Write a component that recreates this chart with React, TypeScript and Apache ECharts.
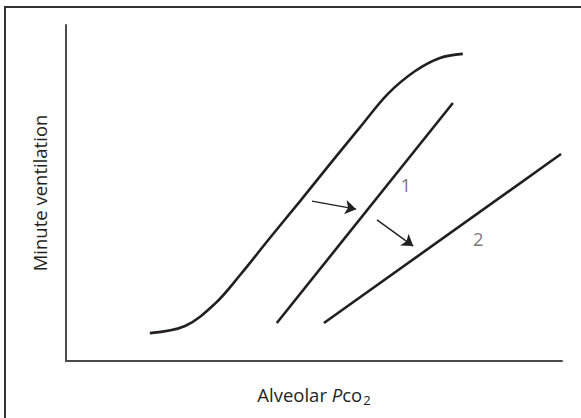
import React, { useEffect, useRef } from "react";
import * as echarts from "echarts";

// Data in abstract units (x: 0..100, y: 0..100)
const sCurve: [number, number][] = [
  [16.9, 8.3], [24.0, 10.4], [30.0, 17.0], [35.1, 25.6], [41.1, 36.6],
  [47.2, 47.6], [53.2, 58.6], [59.3, 69.6], [64.9, 79.5], [70.4, 86.3],
  [75.4, 90.2], [80.0, 91.4],
];
const line1: [number, number][] = [[42.5, 11.3], [78.0, 76.8]];
const line2: [number, number][] = [[52.0, 11.3], [99.8, 61.6]];
const arrow1: [number, number][] = [[49.6, 47.6], [58.5, 45.2]];
const arrow2: [number, number][] = [[62.7, 42.0], [70.0, 34.2]];
const curveLabels: [number, number, string][] = [[68.5, 52.4, "1"], [83.1, 36.6, "2"]];
const yName = "Minute ventilation";

const FONT = "'Open Sans', 'Noto Sans', sans-serif";
const INK = "#231f20";
const FS = 18.5;

export default function App() {
  const ref = useRef<HTMLDivElement>(null);
  useEffect(() => {
    document.body.style.margin = "0";
    const chart = echarts.init(ref.current!, undefined, { renderer: "svg" });
    const lineStyle = { color: INK, width: 2.6 };
    chart.setOption({
      animation: false,
      backgroundColor: "#fff",
      textStyle: { fontFamily: FONT },
      grid: { left: 66, right: 19, top: 25, bottom: 57 },
      xAxis: {
        type: "value", min: 0, max: 100,
        axisLine: { show: true, lineStyle: { color: "#4a4a4a", width: 2 } },
        axisTick: { show: false }, axisLabel: { show: false }, splitLine: { show: false },
        name: "{n|Alveolar }{i|P}{n|co}{s|2}",
        nameLocation: "middle", nameGap: 22,
        nameTextStyle: {
          rich: {
            n: { fontSize: FS, color: INK, fontFamily: FONT },
            i: { fontSize: FS, color: INK, fontStyle: "italic", fontFamily: FONT },
            s: { fontSize: 13, color: INK, fontFamily: FONT, padding: [10, 0, 0, 1], verticalAlign: "bottom" },
          },
        },
      },
      yAxis: {
        type: "value", min: 0, max: 100,
        axisLine: { show: true, lineStyle: { color: "#4a4a4a", width: 2 } },
        axisTick: { show: false }, axisLabel: { show: false }, splitLine: { show: false },
        name: yName, nameLocation: "middle", nameGap: 17,
        nameTextStyle: { fontSize: FS, color: INK, fontFamily: FONT },
      },
      graphic: [
        { type: "rect", shape: { x: 5, y: 7, width: 700, height: 600 }, style: { fill: "none", stroke: "#333", lineWidth: 2 }, silent: true },
      ],
      series: [
        { type: "line", data: sCurve, smooth: 0.35, showSymbol: false, lineStyle },
        { type: "line", data: line1, showSymbol: false, lineStyle },
        { type: "line", data: line2, showSymbol: false, lineStyle },
        {
          type: "lines", coordinateSystem: "cartesian2d",
          symbol: ["none", "arrow"], symbolSize: 11,
          lineStyle: { color: INK, width: 1.4, opacity: 1 },
          data: [{ coords: arrow1 }, { coords: arrow2 }],
        },
        {
          type: "scatter", symbolSize: 0,
          data: curveLabels.map((d) => ({ value: [d[0], d[1]], name: d[2] })),
          label: { show: true, position: "inside", formatter: (p: any) => p.name, fontSize: FS, color: "#555", fontFamily: FONT },
        },
      ],
    });
    return () => chart.dispose();
  }, []);
  return <div ref={ref} style={{ width: 581, height: 418 }} />;
}
